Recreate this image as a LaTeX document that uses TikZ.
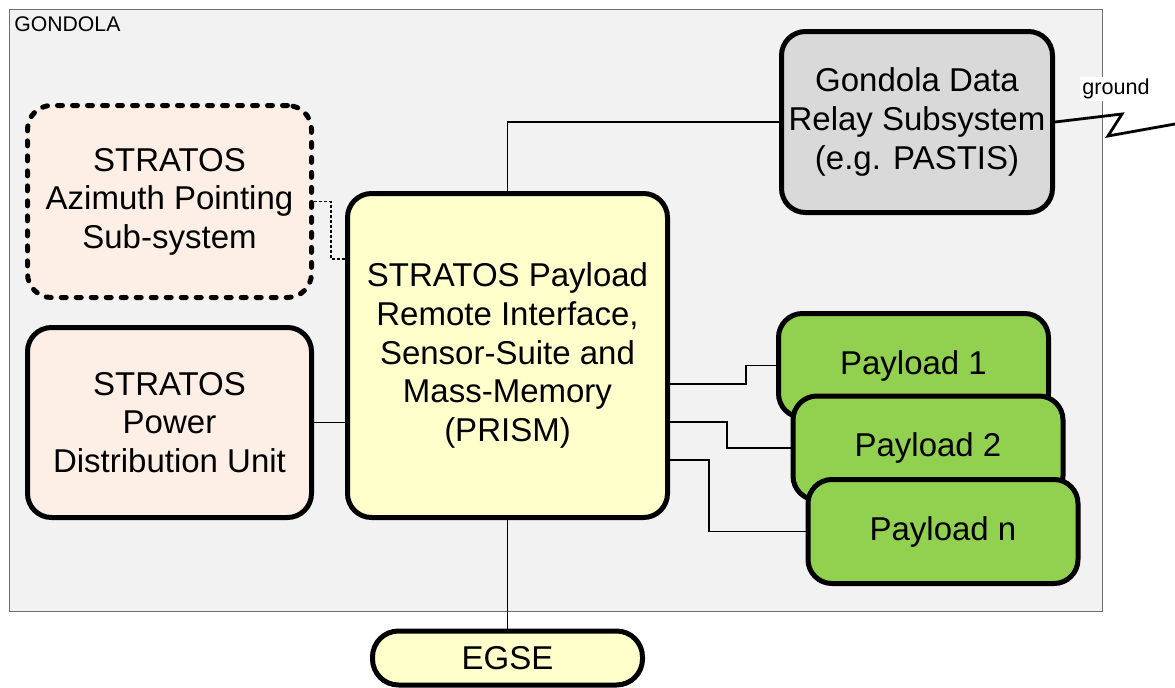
\documentclass[tikz,border=0pt]{standalone}
\usepackage{fontspec}
\setmainfont{Liberation Sans}
\usepackage{tikz}
\usetikzlibrary{positioning}
\usepackage{xcolor}
\definecolor{gondolabg}{RGB}{242,242,242}
\definecolor{framegray}{RGB}{110,110,110}
\definecolor{peach}{RGB}{253,239,230}
\definecolor{prismyellow}{RGB}{255,255,204}
\definecolor{relaygray}{RGB}{217,217,217}
\definecolor{payloadgreen}{RGB}{146,208,80}

\begin{document}
\begin{tikzpicture}[
    x=0.5pt, y=-0.5pt,
    block/.style={draw, line width=2.5pt, rounded corners=12pt, align=center, inner sep=0pt,
        font=\fontsize{16.5}{19.3}\selectfont},
    payload/.style={block, fill=payloadgreen, minimum width=135pt, minimum height=52pt},
    link/.style={draw, line width=0.6pt}
]
    \useasboundingbox (0,0) rectangle (1175,687);

    % Gondola frame
    \node[draw=framegray, fill=gondolabg, line width=0.6pt, inner sep=0pt, anchor=north west,
        minimum width=546.5pt, minimum height=301pt] (gondola) at (9,9) {};
    \node[anchor=north west, inner sep=0pt, font=\fontsize{10.6}{12}\selectfont] (gondolalabel) at (14,16) {GONDOLA};

    % Blocks
    \node[block, fill=peach, minimum width=142pt, minimum height=96pt,
        dash pattern=on 2.5pt off 5pt, line cap=round] (azimuth) at (169.5,201.5)
        {STRATOS\\Azimuth Pointing\\Sub-system};
    \node[block, fill=peach, minimum width=142pt, minimum height=95pt] (power) at (169.5,422.5)
        {STRATOS\\Power\\Distribution Unit};
    \node[block, fill=prismyellow, minimum width=160pt, minimum height=162pt] (prism) at (507.5,355.5)
        {STRATOS Payload\\Remote Interface,\\Sensor-Suite and\\Mass-Memory\\(PRISM)};
    \node[block, fill=relaygray, minimum width=135.5pt, minimum height=90.5pt] (relay) at (917,122)
        {Gondola Data\\Relay Subsystem\\(e.g. PASTIS)};
    \node[block, fill=prismyellow, rounded corners=13pt, minimum width=135pt, minimum height=27pt] (egse) at (507.5,658)
        {EGSE};

    % Payloads
    \node[payload] (p1) at (913.5,365.5) {Payload 1};
    \node[payload] (p2) at (928,448) {Payload 2};
    \node[payload] (pn) at (943,531.5) {Payload n};

    % Links
    \draw[link] (prism.north) |- (relay.west);
    \draw[link, dash pattern=on 1.5pt off 1pt] (azimuth.east) -- ++(17,0) |- ([yshift=48.25pt]prism.west);
    \draw[link] (power.east) -- (power.east -| prism.west);
    \draw[link] ([yshift=-14.25pt]prism.east) -- ++(76,0) |- (p1.west);
    \draw[link] ([yshift=-33.25pt]prism.east) -- ++(57,0) |- (p2.west);
    \draw[link] ([yshift=-52.25pt]prism.east) -- ++(39,0) |- (pn.west);
    \draw[link] (prism.south) -- (egse.north);

    % Radio link to ground
    \node[fill=white, inner sep=1pt, font=\fontsize{10.8}{12}\selectfont] (ground) at (1116,89) {ground};
    \coordinate (gnd) at (1175,124);
    \draw[line width=1.4pt, line join=miter] (relay.east) -- (1122,114) -- (1108,136) -- (gnd);
\end{tikzpicture}
\end{document}
